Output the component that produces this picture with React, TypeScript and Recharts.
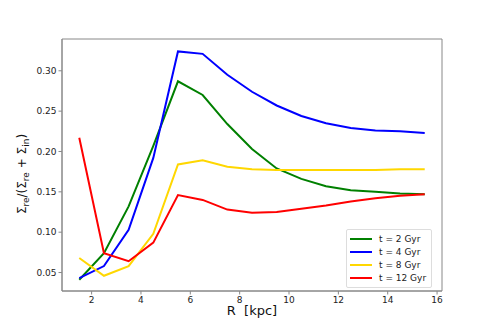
import React from 'react';
import {
  LineChart,
  Line,
  XAxis,
  YAxis,
  ReferenceArea,
} from 'recharts';

// radius bins (kpc) and ratio for each epoch
const radius = [1.5, 2.5, 3.5, 4.5, 5.5, 6.5, 7.5, 8.5, 9.5, 10.5, 11.5, 12.5, 13.5, 14.5, 15.5];
const t2 = [0.041, 0.074, 0.132, 0.207, 0.287, 0.27, 0.234, 0.203, 0.179, 0.166, 0.157, 0.152, 0.15, 0.148, 0.147];
const t4 = [0.043, 0.058, 0.103, 0.192, 0.324, 0.321, 0.295, 0.274, 0.257, 0.244, 0.235, 0.229, 0.226, 0.225, 0.223];
const t8 = [0.068, 0.046, 0.058, 0.098, 0.184, 0.189, 0.181, 0.178, 0.177, 0.177, 0.177, 0.177, 0.177, 0.178, 0.178];
const t12 = [0.217, 0.074, 0.064, 0.087, 0.146, 0.14, 0.128, 0.124, 0.125, 0.129, 0.133, 0.138, 0.142, 0.145, 0.147];

const xTicks = [2, 4, 6, 8, 10, 12, 14, 16];
const yTicks = [0.05, 0.1, 0.15, 0.2, 0.25, 0.3];
const xDomain: [number, number] = [0.8, 16.2];
const yDomain: [number, number] = [0.0271, 0.3394];

const series = [
  { key: 't2', name: 't = 2 Gyr', color: '#008000' },
  { key: 't4', name: 't = 4 Gyr', color: '#0000ff' },
  { key: 't8', name: 't = 8 Gyr', color: '#ffd700' },
  { key: 't12', name: 't = 12 Gyr', color: '#ff0000' },
];

const data = radius.map((r, i) => ({ r, t2: t2[i], t4: t4[i], t8: t8[i], t12: t12[i] }));

const FONT = '"DejaVu Sans", sans-serif';
const tick = { fill: '#222', fontSize: 9, fontFamily: FONT };

// legend drawn as an overlay so it doesn't eat into the plot area
const LegendBox = () => (
  <div
    style={{
      position: 'absolute',
      left: 346,
      top: 229,
      border: '1px solid #ddd',
      borderRadius: 2,
      background: 'white',
      padding: '2px 5px 3px 3px',
      fontFamily: FONT,
      fontSize: 9,
      color: '#222',
    }}
  >
    {series.map((s) => (
      <div key={s.key} style={{ display: 'flex', alignItems: 'center', height: 13 }}>
        <span style={{ display: 'inline-block', width: 22, height: 2, background: s.color, marginRight: 7 }} />
        <span>{s.name}</span>
      </div>
    ))}
  </div>
);

export default function App() {
  return (
    <div style={{ position: 'absolute', left: 0, top: 0, width: 491, height: 327, background: 'white' }}>
      <LineChart
        width={491}
        height={327}
        data={data}
        margin={{ top: 39, right: 49, bottom: 6, left: 12 }}
      >
        <XAxis
          dataKey="r"
          type="number"
          domain={xDomain}
          ticks={xTicks}
          allowDataOverflow
          height={30}
          tick={tick}
          tickSize={3.5}
          axisLine={{ stroke: '#888' }}
          tickLine={{ stroke: '#888' }}
          label={{
            content: () => (
              <text x={252} y={315} textAnchor="middle" fontSize={13} fontFamily={FONT} fill="#111">
                {'R\u00a0\u00a0[kpc]'}
              </text>
            ),
          }}
        />
        <YAxis
          type="number"
          domain={yDomain}
          ticks={yTicks}
          allowDataOverflow
          width={50}
          tick={tick}
          tickSize={3.5}
          tickFormatter={(v: number) => v.toFixed(2)}
          axisLine={{ stroke: '#888' }}
          tickLine={{ stroke: '#888' }}
          label={{
            content: () => (
              <text
                x={26}
                y={174}
                transform="rotate(-90, 26, 174)"
                textAnchor="middle"
                fontSize={12}
                fontFamily={FONT}
                fill="#111"
              >
                Σ<tspan fontSize={9} dy={3}>re</tspan>
                <tspan dy={-3}>/(Σ</tspan>
                <tspan fontSize={9} dy={3}>re</tspan>
                <tspan dy={-3}> + Σ</tspan>
                <tspan fontSize={9} dy={3}>in</tspan>
                <tspan dy={-3}>)</tspan>
              </text>
            ),
          }}
        />
        <ReferenceArea
          x1={xDomain[0]}
          x2={xDomain[1]}
          y1={yDomain[0]}
          y2={yDomain[1]}
          fill="none"
          stroke="#888"
          strokeWidth={1}
        />
        {series.map((s) => (
          <Line
            key={s.key}
            type="linear"
            dataKey={s.key}
            name={s.name}
            stroke={s.color}
            strokeWidth={2}
            dot={false}
            activeDot={false}
            isAnimationActive={false}
          />
        ))}
      </LineChart>
      <LegendBox />
    </div>
  );
}
